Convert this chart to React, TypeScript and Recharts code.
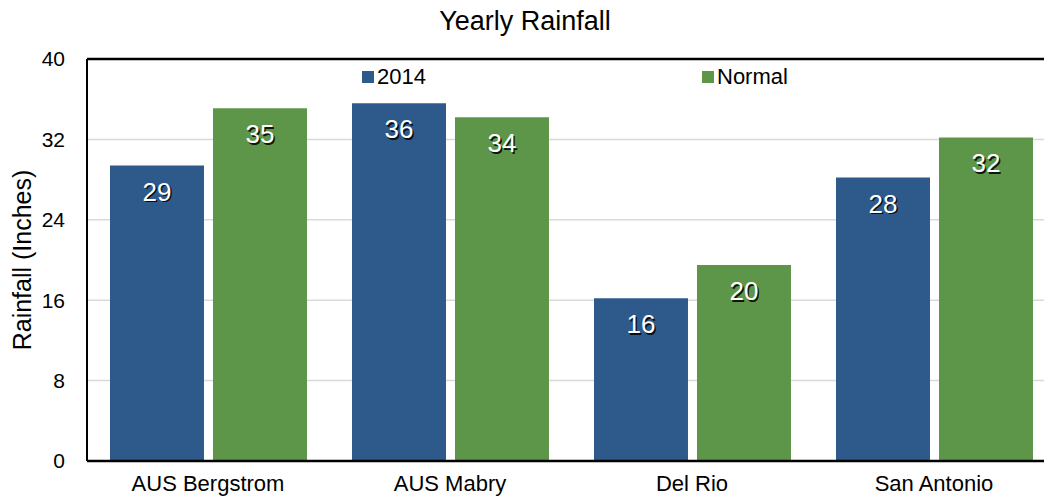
import React from "react";
import {
  Bar,
  BarChart,
  CartesianGrid,
  LabelList,
  Legend,
  ReferenceLine,
  XAxis,
  YAxis,
} from "recharts";

const STATIONS = ["AUS Bergstrom", "AUS Mabry", "Del Rio", "San Antonio"];
const RAIN_2014 = [29.4, 35.6, 16.2, 28.2];
const RAIN_NORMAL = [35.1, 34.2, 19.5, 32.2];
const Y_TICKS = [0, 8, 16, 24, 32, 40];

const BLUE = "#2E5A8B";
const GREEN = "#5D9649";
const FONT = "'Liberation Sans', Arial, sans-serif";

const data = STATIONS.map((name, i) => ({
  name,
  y2014: RAIN_2014[i],
  normal: RAIN_NORMAL[i],
}));

// white value inside the top of the bar, with a small dark drop shadow
function ValueLabel(props: any) {
  const { x, y, width, value } = props;
  const cx = Number(x) + Number(width) / 2;
  const by = Number(y) + 35;
  const txt = String(Math.round(Number(value)));
  return (
    <g style={{ fontFamily: FONT, fontSize: 26 }}>
      <text x={cx + 1.5} y={by + 1.5} textAnchor="middle" fill="#000" fillOpacity={0.85}>
        {txt}
      </text>
      <text x={cx} y={by} textAnchor="middle" fill="#fff">
        {txt}
      </text>
    </g>
  );
}

function YTitle(props: any) {
  const vb = props.viewBox || {};
  const cy = (vb.y ?? 0) + (vb.height ?? 0) / 2;
  return (
    <text
      x={22}
      y={cy}
      transform={`rotate(-90 22 ${cy})`}
      textAnchor="middle"
      dominantBaseline="central"
      style={{ fontFamily: FONT, fontSize: 25, fill: "#000" }}
    >
      Rainfall (Inches)
    </text>
  );
}

function LegendBox() {
  const item = (left: number, color: string, label: string) => (
    <div
      style={{
        position: "absolute",
        left,
        top: 0,
        display: "flex",
        alignItems: "center",
        whiteSpace: "nowrap",
      }}
    >
      <span style={{ width: 12, height: 12, background: color, display: "inline-block", marginRight: 3 }} />
      <span style={{ fontSize: 22, lineHeight: "26px", color: "#000" }}>{label}</span>
    </div>
  );
  return (
    <div style={{ position: "relative", width: 1044, height: 26, fontFamily: FONT }}>
      {item(362, BLUE, "2014")}
      {item(702, GREEN, "Normal")}
    </div>
  );
}

export default function App() {
  return (
    <div
      style={{
        position: "absolute",
        left: 0,
        top: 0,
        width: 1044,
        height: 499,
        overflow: "hidden",
        background: "#fff",
        fontFamily: FONT,
      }}
    >
      <div
        style={{
          position: "absolute",
          left: 0,
          top: 8,
          width: 1050,
          textAlign: "center",
          fontSize: 27,
          lineHeight: "26px",
          color: "#000",
        }}
      >
        Yearly Rainfall
      </div>
      <BarChart
        width={1075}
        height={520}
        data={data}
        margin={{ top: 59, right: 20, bottom: 19, left: 0 }}
        barCategoryGap="9.5%"
        barGap={9}
      >
        <CartesianGrid vertical={false} stroke="#d9d9d9" strokeWidth={1.5} />
        <XAxis
          dataKey="name"
          height={40}
          tickLine={false}
          tickSize={0}
          tickMargin={14}
          axisLine={{ stroke: "#000", strokeWidth: 2.5 }}
          tick={{ fill: "#000", fontSize: 22, fontFamily: FONT }}
          interval={0}
        />
        <YAxis
          width={87}
          domain={[0, 40]}
          ticks={Y_TICKS}
          tickLine={false}
          tickSize={0}
          tickMargin={22}
          axisLine={{ stroke: "#000", strokeWidth: 2 }}
          tick={{ fill: "#000", fontSize: 21, fontFamily: FONT }}
          label={<YTitle />}
        />
        <ReferenceLine y={40} stroke="#000" strokeWidth={2.5} />
        <Legend
          layout="horizontal"
          verticalAlign="middle"
          align="center"
          wrapperStyle={{ position: "absolute", top: 64, left: 0, width: 1044 }}
          content={() => <LegendBox />}
        />
        <Bar dataKey="y2014" name="2014" fill={BLUE} isAnimationActive={false}>
          <LabelList dataKey="y2014" content={<ValueLabel />} />
        </Bar>
        <Bar dataKey="normal" name="Normal" fill={GREEN} isAnimationActive={false}>
          <LabelList dataKey="normal" content={<ValueLabel />} />
        </Bar>
      </BarChart>
    </div>
  );
}
